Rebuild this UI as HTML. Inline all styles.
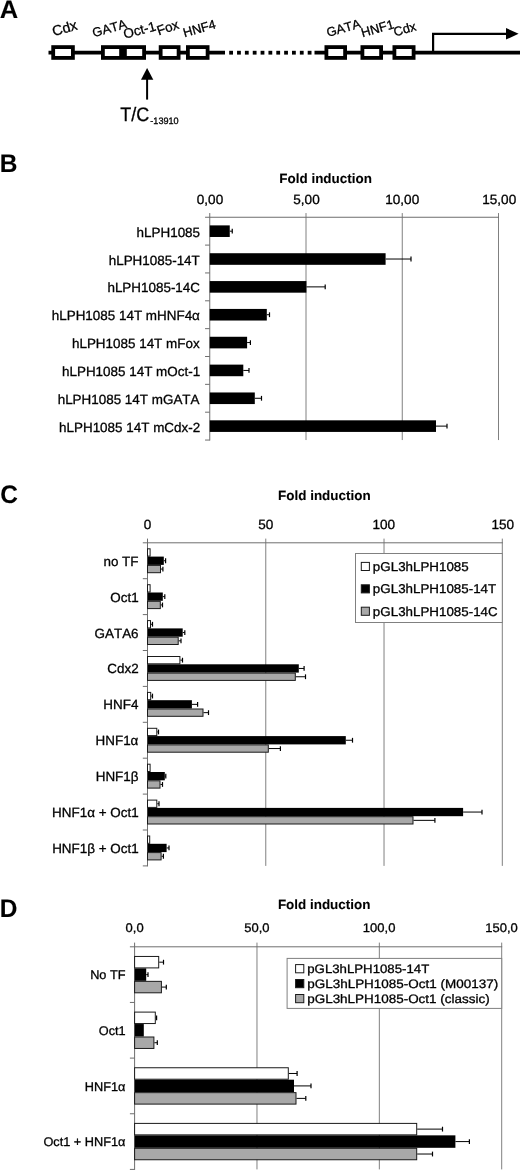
<!DOCTYPE html>
<html><head><meta charset="utf-8"><title>Figure</title>
<style>
html,body{margin:0;padding:0;background:#fff;}
body{width:520px;height:1170px;overflow:hidden;}
svg{display:block;will-change:transform;font-family:"Liberation Sans", sans-serif;font-kerning:none;text-rendering:geometricPrecision;}
text{stroke:#000;stroke-width:0.3px;}
text[font-weight=bold]{stroke-width:0.1px;}
</style></head><body>
<svg width="520" height="1170" viewBox="0 0 520 1170" fill="#000">
<text x="-0.24" y="17.50" font-size="25.5" font-weight="bold">A</text>
<line x1="48.5" y1="52.7" x2="225" y2="52.7" stroke="#000" stroke-width="3.8"/>
<rect x="229.20" y="50.80" width="3.8" height="3.8" fill="#000"/>
<rect x="237.05" y="50.80" width="3.8" height="3.8" fill="#000"/>
<rect x="244.90" y="50.80" width="3.8" height="3.8" fill="#000"/>
<rect x="252.75" y="50.80" width="3.8" height="3.8" fill="#000"/>
<rect x="260.60" y="50.80" width="3.8" height="3.8" fill="#000"/>
<rect x="268.45" y="50.80" width="3.8" height="3.8" fill="#000"/>
<rect x="276.30" y="50.80" width="3.8" height="3.8" fill="#000"/>
<rect x="284.15" y="50.80" width="3.8" height="3.8" fill="#000"/>
<rect x="292.00" y="50.80" width="3.8" height="3.8" fill="#000"/>
<rect x="299.85" y="50.80" width="3.8" height="3.8" fill="#000"/>
<rect x="307.70" y="50.80" width="3.8" height="3.8" fill="#000"/>
<line x1="314.5" y1="52.7" x2="520" y2="52.7" stroke="#000" stroke-width="3.8"/>
<rect x="53.20" y="47.10" width="19.70" height="10.80" fill="#fff" stroke="#000" stroke-width="3.8"/>
<rect x="102.90" y="47.10" width="18.20" height="10.80" fill="#fff" stroke="#000" stroke-width="3.8"/>
<rect x="124.90" y="47.10" width="19.20" height="10.80" fill="#fff" stroke="#000" stroke-width="3.8"/>
<rect x="160.65" y="47.10" width="17.95" height="10.80" fill="#fff" stroke="#000" stroke-width="3.8"/>
<rect x="187.90" y="47.10" width="19.70" height="10.80" fill="#fff" stroke="#000" stroke-width="3.8"/>
<rect x="326.40" y="47.10" width="18.70" height="10.80" fill="#fff" stroke="#000" stroke-width="3.8"/>
<rect x="362.40" y="47.10" width="18.70" height="10.80" fill="#fff" stroke="#000" stroke-width="3.8"/>
<rect x="394.40" y="47.10" width="19.20" height="10.80" fill="#fff" stroke="#000" stroke-width="3.8"/>
<text transform="translate(64.85,27.8) rotate(-16)" x="-13.00" y="5.18" font-size="14.3">Cdx</text>
<text transform="translate(109.65,28.15) rotate(-16)" x="-17.73" y="4.47" font-size="12.8">GATA</text>
<text transform="translate(139.5,29.9) rotate(-15)" x="-16.49" y="4.71" font-size="13.5">Oct-1</text>
<text transform="translate(168.3,27.3) rotate(-19)" x="-11.65" y="4.61" font-size="13.4">Fox</text>
<text transform="translate(199.75,28.3) rotate(-16)" x="-17.05" y="4.40" font-size="12.8">HNF4</text>
<text transform="translate(343.85,27.8) rotate(-16)" x="-17.73" y="4.47" font-size="12.8">GATA</text>
<text transform="translate(377.65,28.3) rotate(-16)" x="-16.93" y="4.40" font-size="12.8">HNF1</text>
<text transform="translate(405,28.75) rotate(-16)" x="-11.64" y="4.64" font-size="12.8">Cdx</text>
<path d="M433.1 52 V33.8 H507" fill="none" stroke="#000" stroke-width="2.2"/>
<polygon points="506,28 518.6,33.8 506,39.6" fill="#000"/>
<polygon points="147.1,68 153.3,79.8 141,79.8" fill="#000"/>
<line x1="147.1" y1="79" x2="147.1" y2="99.6" stroke="#000" stroke-width="2"/>
<text x="120.25" y="120.50" font-size="19.5" textLength="29.04" lengthAdjust="spacingAndGlyphs">T/C</text>
<text x="150.30" y="124.20" font-size="9.4" textLength="28.36" lengthAdjust="spacingAndGlyphs">-13910</text>
<text x="-0.34" y="172.00" font-size="25.5" font-weight="bold" textLength="17.68" lengthAdjust="spacingAndGlyphs">B</text>
<text x="279.36" y="183.00" font-size="13.3" font-weight="bold" textLength="92.52" lengthAdjust="spacingAndGlyphs">Fold induction</text>
<text x="196.80" y="203.80" font-size="13.3" textLength="26.40" lengthAdjust="spacingAndGlyphs">0,00</text>
<text x="293.29" y="203.80" font-size="13.3" textLength="26.40" lengthAdjust="spacingAndGlyphs">5,00</text>
<line x1="306.00" y1="213.05" x2="306.00" y2="440.05" stroke="#808080" stroke-width="1"/>
<text x="385.27" y="203.80" font-size="13.3" textLength="33.95" lengthAdjust="spacingAndGlyphs">10,00</text>
<line x1="402.25" y1="213.05" x2="402.25" y2="440.05" stroke="#808080" stroke-width="1"/>
<text x="482.27" y="203.80" font-size="13.3" textLength="33.95" lengthAdjust="spacingAndGlyphs">15,00</text>
<line x1="498.50" y1="213.05" x2="498.50" y2="440.05" stroke="#808080" stroke-width="1"/>
<line x1="205.05" y1="217.25" x2="499.00" y2="217.25" stroke="#6e6e6e" stroke-width="1"/>
<line x1="209.75" y1="213.05" x2="209.75" y2="440.55" stroke="#6e6e6e" stroke-width="1"/>
<line x1="205.05" y1="245.10" x2="209.75" y2="245.10" stroke="#6e6e6e" stroke-width="1"/>
<line x1="205.05" y1="272.95" x2="209.75" y2="272.95" stroke="#6e6e6e" stroke-width="1"/>
<line x1="205.05" y1="300.80" x2="209.75" y2="300.80" stroke="#6e6e6e" stroke-width="1"/>
<line x1="205.05" y1="328.65" x2="209.75" y2="328.65" stroke="#6e6e6e" stroke-width="1"/>
<line x1="205.05" y1="356.50" x2="209.75" y2="356.50" stroke="#6e6e6e" stroke-width="1"/>
<line x1="205.05" y1="384.35" x2="209.75" y2="384.35" stroke="#6e6e6e" stroke-width="1"/>
<line x1="205.05" y1="412.20" x2="209.75" y2="412.20" stroke="#6e6e6e" stroke-width="1"/>
<line x1="205.05" y1="440.05" x2="209.75" y2="440.05" stroke="#6e6e6e" stroke-width="1"/>
<text x="136.58" y="236.68" font-size="13.3" textLength="63.49" lengthAdjust="spacingAndGlyphs">hLPH1085</text>
<rect x="209.75" y="225.38" width="20.00" height="11.60" fill="#000"/>
<line x1="229.75" y1="231.18" x2="232.25" y2="231.18" stroke="#000" stroke-width="1"/>
<line x1="232.25" y1="228.78" x2="232.25" y2="233.58" stroke="#000" stroke-width="1.2"/>
<text x="108.70" y="264.52" font-size="13.3" textLength="91.11" lengthAdjust="spacingAndGlyphs">hLPH1085-14T</text>
<rect x="209.75" y="253.22" width="175.85" height="11.60" fill="#000"/>
<line x1="385.60" y1="259.02" x2="411.00" y2="259.02" stroke="#000" stroke-width="1"/>
<line x1="411.00" y1="256.62" x2="411.00" y2="261.42" stroke="#000" stroke-width="1.2"/>
<text x="107.41" y="292.38" font-size="13.3" textLength="92.60" lengthAdjust="spacingAndGlyphs">hLPH1085-14C</text>
<rect x="209.75" y="281.07" width="96.65" height="11.60" fill="#000"/>
<line x1="306.40" y1="286.88" x2="325.20" y2="286.88" stroke="#000" stroke-width="1"/>
<line x1="325.20" y1="284.48" x2="325.20" y2="289.27" stroke="#000" stroke-width="1.2"/>
<text x="51.76" y="320.23" font-size="13.3" textLength="148.13" lengthAdjust="spacingAndGlyphs">hLPH1085 14T mHNF4α</text>
<rect x="209.75" y="308.93" width="57.05" height="11.60" fill="#000"/>
<line x1="266.80" y1="314.73" x2="269.50" y2="314.73" stroke="#000" stroke-width="1"/>
<line x1="269.50" y1="312.33" x2="269.50" y2="317.12" stroke="#000" stroke-width="1.2"/>
<text x="71.97" y="348.07" font-size="13.3" textLength="127.68" lengthAdjust="spacingAndGlyphs">hLPH1085 14T mFox</text>
<rect x="209.75" y="336.77" width="37.35" height="11.60" fill="#000"/>
<line x1="247.10" y1="342.57" x2="250.40" y2="342.57" stroke="#000" stroke-width="1"/>
<line x1="250.40" y1="340.18" x2="250.40" y2="344.97" stroke="#000" stroke-width="1.2"/>
<text x="62.03" y="375.93" font-size="13.3" textLength="138.13" lengthAdjust="spacingAndGlyphs">hLPH1085 14T mOct-1</text>
<rect x="209.75" y="364.62" width="33.55" height="11.60" fill="#000"/>
<line x1="243.30" y1="370.43" x2="249.00" y2="370.43" stroke="#000" stroke-width="1"/>
<line x1="249.00" y1="368.03" x2="249.00" y2="372.82" stroke="#000" stroke-width="1.2"/>
<text x="57.67" y="403.77" font-size="13.3" textLength="141.86" lengthAdjust="spacingAndGlyphs">hLPH1085 14T mGATA</text>
<rect x="209.75" y="392.47" width="45.05" height="11.60" fill="#000"/>
<line x1="254.80" y1="398.27" x2="261.50" y2="398.27" stroke="#000" stroke-width="1"/>
<line x1="261.50" y1="395.88" x2="261.50" y2="400.67" stroke="#000" stroke-width="1.2"/>
<text x="59.06" y="431.62" font-size="13.3" textLength="141.12" lengthAdjust="spacingAndGlyphs">hLPH1085 14T mCdx-2</text>
<rect x="209.75" y="420.32" width="226.25" height="11.60" fill="#000"/>
<line x1="436.00" y1="426.12" x2="447.00" y2="426.12" stroke="#000" stroke-width="1"/>
<line x1="447.00" y1="423.73" x2="447.00" y2="428.52" stroke="#000" stroke-width="1.2"/>
<text x="0.30" y="503.00" font-size="25.5" font-weight="bold" textLength="17.68" lengthAdjust="spacingAndGlyphs">C</text>
<text x="278.11" y="500.00" font-size="13.3" font-weight="bold" textLength="92.52" lengthAdjust="spacingAndGlyphs">Fold induction</text>
<text x="143.73" y="529.20" font-size="13.3" textLength="7.54" lengthAdjust="spacingAndGlyphs">0</text>
<text x="258.22" y="529.20" font-size="13.3" textLength="15.09" lengthAdjust="spacingAndGlyphs">50</text>
<line x1="265.77" y1="538.60" x2="265.77" y2="865.90" stroke="#808080" stroke-width="1"/>
<text x="372.46" y="529.20" font-size="13.3" textLength="22.63" lengthAdjust="spacingAndGlyphs">100</text>
<line x1="384.03" y1="538.60" x2="384.03" y2="865.90" stroke="#808080" stroke-width="1"/>
<text x="491.43" y="529.20" font-size="13.3" textLength="22.63" lengthAdjust="spacingAndGlyphs">150</text>
<line x1="502.30" y1="538.60" x2="502.30" y2="865.90" stroke="#808080" stroke-width="1"/>
<line x1="142.80" y1="542.8" x2="502.80" y2="542.8" stroke="#6e6e6e" stroke-width="1"/>
<line x1="147.5" y1="538.60" x2="147.5" y2="866.40" stroke="#6e6e6e" stroke-width="1"/>
<line x1="142.80" y1="578.70" x2="147.5" y2="578.70" stroke="#6e6e6e" stroke-width="1"/>
<line x1="142.80" y1="614.60" x2="147.5" y2="614.60" stroke="#6e6e6e" stroke-width="1"/>
<line x1="142.80" y1="650.50" x2="147.5" y2="650.50" stroke="#6e6e6e" stroke-width="1"/>
<line x1="142.80" y1="686.40" x2="147.5" y2="686.40" stroke="#6e6e6e" stroke-width="1"/>
<line x1="142.80" y1="722.30" x2="147.5" y2="722.30" stroke="#6e6e6e" stroke-width="1"/>
<line x1="142.80" y1="758.20" x2="147.5" y2="758.20" stroke="#6e6e6e" stroke-width="1"/>
<line x1="142.80" y1="794.10" x2="147.5" y2="794.10" stroke="#6e6e6e" stroke-width="1"/>
<line x1="142.80" y1="830.00" x2="147.5" y2="830.00" stroke="#6e6e6e" stroke-width="1"/>
<line x1="142.80" y1="865.90" x2="147.5" y2="865.90" stroke="#6e6e6e" stroke-width="1"/>
<text x="103.45" y="565.75" font-size="13.3" textLength="35.08" lengthAdjust="spacingAndGlyphs">no TF</text>
<rect x="147.5" y="548.80" width="2.60" height="7.30" fill="#fff" stroke="#1a1a1a" stroke-width="1"/>
<rect x="147.5" y="556.60" width="16.30" height="8.30" fill="#000"/>
<line x1="163.80" y1="560.75" x2="165.60" y2="560.75" stroke="#000" stroke-width="1"/>
<line x1="165.60" y1="558.35" x2="165.60" y2="563.15" stroke="#000" stroke-width="1.2"/>
<rect x="147.5" y="565.40" width="13.00" height="7.30" fill="#a8a8a8" stroke="#1a1a1a" stroke-width="1"/>
<line x1="161.00" y1="569.05" x2="162.90" y2="569.05" stroke="#000" stroke-width="1"/>
<line x1="162.90" y1="566.65" x2="162.90" y2="571.45" stroke="#000" stroke-width="1.2"/>
<text x="110.29" y="601.65" font-size="13.3" textLength="28.37" lengthAdjust="spacingAndGlyphs">Oct1</text>
<rect x="147.5" y="584.70" width="2.60" height="7.30" fill="#fff" stroke="#1a1a1a" stroke-width="1"/>
<rect x="147.5" y="592.50" width="15.30" height="8.30" fill="#000"/>
<line x1="162.80" y1="596.65" x2="164.80" y2="596.65" stroke="#000" stroke-width="1"/>
<line x1="164.80" y1="594.25" x2="164.80" y2="599.05" stroke="#000" stroke-width="1.2"/>
<rect x="147.5" y="601.30" width="12.80" height="7.30" fill="#a8a8a8" stroke="#1a1a1a" stroke-width="1"/>
<line x1="160.80" y1="604.95" x2="162.50" y2="604.95" stroke="#000" stroke-width="1"/>
<line x1="162.50" y1="602.55" x2="162.50" y2="607.35" stroke="#000" stroke-width="1.2"/>
<text x="94.55" y="637.55" font-size="13.3" textLength="44.04" lengthAdjust="spacingAndGlyphs">GATA6</text>
<rect x="147.5" y="620.60" width="3.00" height="7.30" fill="#fff" stroke="#1a1a1a" stroke-width="1"/>
<line x1="151.00" y1="624.25" x2="152.50" y2="624.25" stroke="#000" stroke-width="1"/>
<line x1="152.50" y1="621.85" x2="152.50" y2="626.65" stroke="#000" stroke-width="1.2"/>
<rect x="147.5" y="628.40" width="35.20" height="8.30" fill="#000"/>
<line x1="182.70" y1="632.55" x2="184.80" y2="632.55" stroke="#000" stroke-width="1"/>
<line x1="184.80" y1="630.15" x2="184.80" y2="634.95" stroke="#000" stroke-width="1.2"/>
<rect x="147.5" y="637.20" width="30.70" height="7.30" fill="#a8a8a8" stroke="#1a1a1a" stroke-width="1"/>
<line x1="178.70" y1="640.85" x2="181.00" y2="640.85" stroke="#000" stroke-width="1"/>
<line x1="181.00" y1="638.45" x2="181.00" y2="643.25" stroke="#000" stroke-width="1.2"/>
<text x="107.32" y="673.45" font-size="13.3" textLength="31.36" lengthAdjust="spacingAndGlyphs">Cdx2</text>
<rect x="147.5" y="656.50" width="32.40" height="7.30" fill="#fff" stroke="#1a1a1a" stroke-width="1"/>
<line x1="180.40" y1="660.15" x2="182.50" y2="660.15" stroke="#000" stroke-width="1"/>
<line x1="182.50" y1="657.75" x2="182.50" y2="662.55" stroke="#000" stroke-width="1.2"/>
<rect x="147.5" y="664.30" width="151.30" height="8.30" fill="#000"/>
<line x1="298.80" y1="668.45" x2="304.10" y2="668.45" stroke="#000" stroke-width="1"/>
<line x1="304.10" y1="666.05" x2="304.10" y2="670.85" stroke="#000" stroke-width="1.2"/>
<rect x="147.5" y="673.10" width="147.80" height="7.30" fill="#a8a8a8" stroke="#1a1a1a" stroke-width="1"/>
<line x1="295.80" y1="676.75" x2="305.50" y2="676.75" stroke="#000" stroke-width="1"/>
<line x1="305.50" y1="674.35" x2="305.50" y2="679.15" stroke="#000" stroke-width="1.2"/>
<text x="103.32" y="709.35" font-size="13.3" textLength="35.08" lengthAdjust="spacingAndGlyphs">HNF4</text>
<rect x="147.5" y="692.40" width="3.20" height="7.30" fill="#fff" stroke="#1a1a1a" stroke-width="1"/>
<line x1="151.20" y1="696.05" x2="152.50" y2="696.05" stroke="#000" stroke-width="1"/>
<line x1="152.50" y1="693.65" x2="152.50" y2="698.45" stroke="#000" stroke-width="1.2"/>
<rect x="147.5" y="700.20" width="44.40" height="8.30" fill="#000"/>
<line x1="191.90" y1="704.35" x2="197.60" y2="704.35" stroke="#000" stroke-width="1"/>
<line x1="197.60" y1="701.95" x2="197.60" y2="706.75" stroke="#000" stroke-width="1.2"/>
<rect x="147.5" y="709.00" width="55.50" height="7.30" fill="#a8a8a8" stroke="#1a1a1a" stroke-width="1"/>
<line x1="203.50" y1="712.65" x2="208.50" y2="712.65" stroke="#000" stroke-width="1"/>
<line x1="208.50" y1="710.25" x2="208.50" y2="715.05" stroke="#000" stroke-width="1.2"/>
<text x="95.54" y="745.25" font-size="13.3" textLength="42.84" lengthAdjust="spacingAndGlyphs">HNF1α</text>
<rect x="147.5" y="728.30" width="9.30" height="7.30" fill="#fff" stroke="#1a1a1a" stroke-width="1"/>
<line x1="157.30" y1="731.95" x2="158.50" y2="731.95" stroke="#000" stroke-width="1"/>
<line x1="158.50" y1="729.55" x2="158.50" y2="734.35" stroke="#000" stroke-width="1.2"/>
<rect x="147.5" y="736.10" width="198.30" height="8.30" fill="#000"/>
<line x1="345.80" y1="740.25" x2="352.50" y2="740.25" stroke="#000" stroke-width="1"/>
<line x1="352.50" y1="737.85" x2="352.50" y2="742.65" stroke="#000" stroke-width="1.2"/>
<rect x="147.5" y="744.90" width="120.80" height="7.30" fill="#a8a8a8" stroke="#1a1a1a" stroke-width="1"/>
<line x1="268.80" y1="748.55" x2="280.40" y2="748.55" stroke="#000" stroke-width="1"/>
<line x1="280.40" y1="746.15" x2="280.40" y2="750.95" stroke="#000" stroke-width="1.2"/>
<text x="95.73" y="781.15" font-size="13.3" textLength="42.80" lengthAdjust="spacingAndGlyphs">HNF1β</text>
<rect x="147.5" y="764.20" width="2.60" height="7.30" fill="#fff" stroke="#1a1a1a" stroke-width="1"/>
<rect x="147.5" y="772.00" width="17.30" height="8.30" fill="#000"/>
<line x1="164.80" y1="776.15" x2="165.80" y2="776.15" stroke="#000" stroke-width="1"/>
<line x1="165.80" y1="773.75" x2="165.80" y2="778.55" stroke="#000" stroke-width="1.2"/>
<rect x="147.5" y="780.80" width="12.50" height="7.30" fill="#a8a8a8" stroke="#1a1a1a" stroke-width="1"/>
<line x1="160.50" y1="784.45" x2="162.50" y2="784.45" stroke="#000" stroke-width="1"/>
<line x1="162.50" y1="782.05" x2="162.50" y2="786.85" stroke="#000" stroke-width="1.2"/>
<text x="52.14" y="817.05" font-size="13.3" textLength="86.52" lengthAdjust="spacingAndGlyphs">HNF1α + Oct1</text>
<rect x="147.5" y="800.10" width="9.30" height="7.30" fill="#fff" stroke="#1a1a1a" stroke-width="1"/>
<line x1="157.30" y1="803.75" x2="159.00" y2="803.75" stroke="#000" stroke-width="1"/>
<line x1="159.00" y1="801.35" x2="159.00" y2="806.15" stroke="#000" stroke-width="1.2"/>
<rect x="147.5" y="807.90" width="315.60" height="8.30" fill="#000"/>
<line x1="463.10" y1="812.05" x2="482.00" y2="812.05" stroke="#000" stroke-width="1"/>
<line x1="482.00" y1="809.65" x2="482.00" y2="814.45" stroke="#000" stroke-width="1.2"/>
<rect x="147.5" y="816.70" width="265.50" height="7.30" fill="#a8a8a8" stroke="#1a1a1a" stroke-width="1"/>
<line x1="413.50" y1="820.35" x2="434.90" y2="820.35" stroke="#000" stroke-width="1"/>
<line x1="434.90" y1="817.95" x2="434.90" y2="822.75" stroke="#000" stroke-width="1.2"/>
<text x="52.17" y="852.95" font-size="13.3" textLength="86.48" lengthAdjust="spacingAndGlyphs">HNF1β + Oct1</text>
<rect x="147.5" y="836.00" width="2.20" height="7.30" fill="#fff" stroke="#1a1a1a" stroke-width="1"/>
<rect x="147.5" y="843.80" width="19.10" height="8.30" fill="#000"/>
<line x1="166.60" y1="847.95" x2="169.00" y2="847.95" stroke="#000" stroke-width="1"/>
<line x1="169.00" y1="845.55" x2="169.00" y2="850.35" stroke="#000" stroke-width="1.2"/>
<rect x="147.5" y="852.60" width="13.60" height="7.30" fill="#a8a8a8" stroke="#1a1a1a" stroke-width="1"/>
<line x1="161.60" y1="856.25" x2="163.40" y2="856.25" stroke="#000" stroke-width="1"/>
<line x1="163.40" y1="853.85" x2="163.40" y2="858.65" stroke="#000" stroke-width="1.2"/>
<rect x="355.5" y="553.5" width="146.8" height="69" fill="#fff" stroke="#808080" stroke-width="1"/>
<rect x="361.3" y="562.4" width="8.1" height="8.1" fill="#fff" stroke="#1a1a1a" stroke-width="1"/>
<text x="372.89" y="570.90" font-size="12.8" textLength="95.85" lengthAdjust="spacingAndGlyphs">pGL3hLPH1085</text>
<rect x="361.3" y="584.8" width="8.1" height="8.1" fill="#000" stroke="#1a1a1a" stroke-width="1"/>
<text x="372.89" y="593.30" font-size="12.8" textLength="123.32" lengthAdjust="spacingAndGlyphs">pGL3hLPH1085-14T</text>
<rect x="361.3" y="607.2" width="8.1" height="8.1" fill="#a8a8a8" stroke="#1a1a1a" stroke-width="1"/>
<text x="372.89" y="615.70" font-size="12.8" textLength="124.81" lengthAdjust="spacingAndGlyphs">pGL3hLPH1085-14C</text>
<text x="-0.34" y="916.80" font-size="25.5" font-weight="bold" textLength="17.68" lengthAdjust="spacingAndGlyphs">D</text>
<text x="277.91" y="909.00" font-size="13.3" font-weight="bold" textLength="92.52" lengthAdjust="spacingAndGlyphs">Fold induction</text>
<text x="125.56" y="932.10" font-size="12.5" textLength="18.07" lengthAdjust="spacingAndGlyphs">0,0</text>
<text x="244.31" y="932.10" font-size="12.5" textLength="25.30" lengthAdjust="spacingAndGlyphs">50,0</text>
<line x1="256.97" y1="942.60" x2="256.97" y2="1169.40" stroke="#808080" stroke-width="1"/>
<text x="362.83" y="932.10" font-size="12.5" textLength="32.53" lengthAdjust="spacingAndGlyphs">100,0</text>
<line x1="379.33" y1="942.60" x2="379.33" y2="1169.40" stroke="#808080" stroke-width="1"/>
<text x="485.19" y="932.10" font-size="12.5" textLength="32.53" lengthAdjust="spacingAndGlyphs">150,0</text>
<line x1="501.70" y1="942.60" x2="501.70" y2="1169.40" stroke="#808080" stroke-width="1"/>
<line x1="129.90" y1="946.8" x2="502.20" y2="946.8" stroke="#6e6e6e" stroke-width="1"/>
<line x1="134.6" y1="942.60" x2="134.6" y2="1169.90" stroke="#6e6e6e" stroke-width="1"/>
<line x1="129.90" y1="1002.45" x2="134.6" y2="1002.45" stroke="#6e6e6e" stroke-width="1"/>
<line x1="129.90" y1="1058.10" x2="134.6" y2="1058.10" stroke="#6e6e6e" stroke-width="1"/>
<line x1="129.90" y1="1113.75" x2="134.6" y2="1113.75" stroke="#6e6e6e" stroke-width="1"/>
<line x1="129.90" y1="1169.40" x2="134.6" y2="1169.40" stroke="#6e6e6e" stroke-width="1"/>
<text x="90.16" y="979.42" font-size="12.6" textLength="35.35" lengthAdjust="spacingAndGlyphs">No TF</text>
<rect x="134.6" y="956.45" width="24.10" height="11.45" fill="#fff" stroke="#1a1a1a" stroke-width="1"/>
<line x1="159.20" y1="962.18" x2="163.50" y2="962.18" stroke="#000" stroke-width="1"/>
<line x1="163.50" y1="959.78" x2="163.50" y2="964.58" stroke="#000" stroke-width="1.2"/>
<rect x="134.6" y="968.40" width="11.60" height="12.45" fill="#000"/>
<line x1="146.20" y1="974.63" x2="148.00" y2="974.63" stroke="#000" stroke-width="1"/>
<line x1="148.00" y1="972.23" x2="148.00" y2="977.03" stroke="#000" stroke-width="1.2"/>
<rect x="134.6" y="981.35" width="26.80" height="11.45" fill="#a8a8a8" stroke="#1a1a1a" stroke-width="1"/>
<line x1="161.90" y1="987.08" x2="166.30" y2="987.08" stroke="#000" stroke-width="1"/>
<line x1="166.30" y1="984.68" x2="166.30" y2="989.48" stroke="#000" stroke-width="1.2"/>
<text x="98.75" y="1035.07" font-size="12.6" textLength="26.87" lengthAdjust="spacingAndGlyphs">Oct1</text>
<rect x="134.6" y="1012.10" width="20.70" height="11.45" fill="#fff" stroke="#1a1a1a" stroke-width="1"/>
<line x1="155.80" y1="1017.82" x2="156.60" y2="1017.82" stroke="#000" stroke-width="1"/>
<line x1="156.60" y1="1015.42" x2="156.60" y2="1020.22" stroke="#000" stroke-width="1.2"/>
<rect x="134.6" y="1024.05" width="9.20" height="12.45" fill="#000"/>
<rect x="134.6" y="1037.00" width="19.30" height="11.45" fill="#a8a8a8" stroke="#1a1a1a" stroke-width="1"/>
<line x1="154.40" y1="1042.72" x2="157.30" y2="1042.72" stroke="#000" stroke-width="1"/>
<line x1="157.30" y1="1040.32" x2="157.30" y2="1045.12" stroke="#000" stroke-width="1.2"/>
<text x="84.78" y="1090.72" font-size="12.6" textLength="40.59" lengthAdjust="spacingAndGlyphs">HNF1α</text>
<rect x="134.6" y="1067.75" width="153.70" height="11.45" fill="#fff" stroke="#1a1a1a" stroke-width="1"/>
<line x1="288.80" y1="1073.47" x2="297.10" y2="1073.47" stroke="#000" stroke-width="1"/>
<line x1="297.10" y1="1071.07" x2="297.10" y2="1075.88" stroke="#000" stroke-width="1.2"/>
<rect x="134.6" y="1079.70" width="159.40" height="12.45" fill="#000"/>
<line x1="294.00" y1="1085.92" x2="311.00" y2="1085.92" stroke="#000" stroke-width="1"/>
<line x1="311.00" y1="1083.52" x2="311.00" y2="1088.33" stroke="#000" stroke-width="1.2"/>
<rect x="134.6" y="1092.65" width="161.40" height="11.45" fill="#a8a8a8" stroke="#1a1a1a" stroke-width="1"/>
<line x1="296.50" y1="1098.38" x2="305.80" y2="1098.38" stroke="#000" stroke-width="1"/>
<line x1="305.80" y1="1095.97" x2="305.80" y2="1100.78" stroke="#000" stroke-width="1.2"/>
<text x="43.40" y="1146.38" font-size="12.6" textLength="81.97" lengthAdjust="spacingAndGlyphs">Oct1 + HNF1α</text>
<rect x="134.6" y="1123.40" width="282.10" height="11.45" fill="#fff" stroke="#1a1a1a" stroke-width="1"/>
<line x1="417.20" y1="1129.12" x2="442.50" y2="1129.12" stroke="#000" stroke-width="1"/>
<line x1="442.50" y1="1126.72" x2="442.50" y2="1131.53" stroke="#000" stroke-width="1.2"/>
<rect x="134.6" y="1135.35" width="320.80" height="12.45" fill="#000"/>
<line x1="455.40" y1="1141.58" x2="469.40" y2="1141.58" stroke="#000" stroke-width="1"/>
<line x1="469.40" y1="1139.17" x2="469.40" y2="1143.98" stroke="#000" stroke-width="1.2"/>
<rect x="134.6" y="1148.30" width="282.10" height="11.45" fill="#a8a8a8" stroke="#1a1a1a" stroke-width="1"/>
<line x1="417.20" y1="1154.03" x2="432.50" y2="1154.03" stroke="#000" stroke-width="1"/>
<line x1="432.50" y1="1151.62" x2="432.50" y2="1156.43" stroke="#000" stroke-width="1.2"/>
<rect x="287.1" y="958.4" width="214.6" height="50" fill="#fff" stroke="#808080" stroke-width="1"/>
<rect x="295.6" y="964.6" width="8.2" height="8.2" fill="#fff" stroke="#1a1a1a" stroke-width="1"/>
<text x="307.25" y="972.80" font-size="12.3" textLength="121.96" lengthAdjust="spacingAndGlyphs">pGL3hLPH1085-14T</text>
<rect x="295.6" y="979.5" width="8.2" height="8.2" fill="#000" stroke="#1a1a1a" stroke-width="1"/>
<text x="307.23" y="987.70" font-size="12.3" textLength="190.90" lengthAdjust="spacingAndGlyphs">pGL3hLPH1085-Oct1 (M00137)</text>
<rect x="295.6" y="994.5" width="8.2" height="8.2" fill="#a8a8a8" stroke="#1a1a1a" stroke-width="1"/>
<text x="307.23" y="1002.70" font-size="12.3" textLength="182.40" lengthAdjust="spacingAndGlyphs">pGL3hLPH1085-Oct1 (classic)</text>
</svg>
</body></html>
